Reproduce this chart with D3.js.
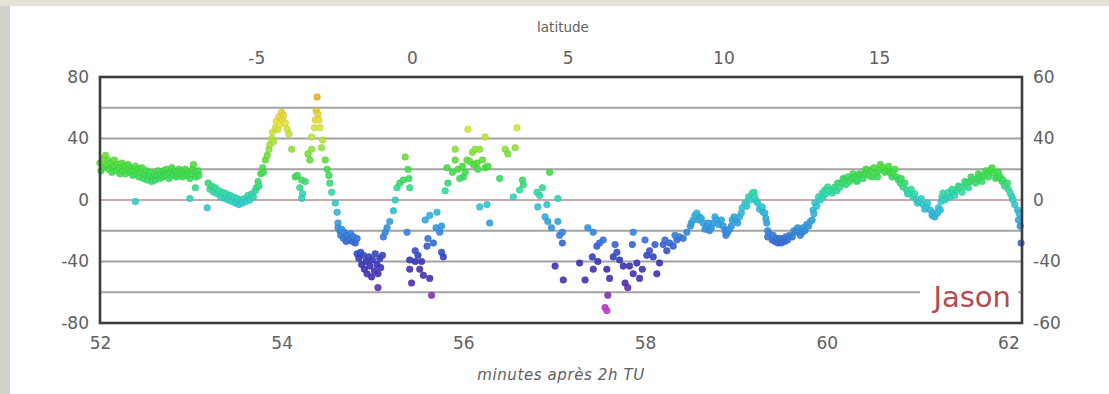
<!DOCTYPE html>
<html>
<head>
<meta charset="utf-8">
<script src="https://cdn.jsdelivr.net/npm/d3@7"></script>
<style>
  body { margin: 0; background: #fff; }
  svg { display: block; }
</style>
</head>
<body>
<svg id="chart" width="1109" height="394"></svg>
<script>
// Each point: [minutes after 02:00 UT, value]
const plateau = [
  [52.00,24],[52.01,19],[52.03,27],[52.04,21],[52.06,29],[52.07,23],[52.09,26],[52.10,20],[52.12,24],[52.13,18],
  [52.15,22],[52.16,26],[52.18,19],[52.19,23],[52.21,21],[52.22,17],[52.24,24],[52.25,19],[52.27,22],[52.28,17],
  [52.30,20],[52.31,23],[52.33,18],[52.34,21],[52.36,16],[52.37,19],[52.39,22],[52.40,17],[52.42,20],[52.43,15],
  [52.45,18],[52.46,21],[52.48,14],[52.49,17],[52.51,19],[52.52,13],[52.54,16],[52.55,18],[52.57,12],[52.58,15],
  [52.60,17],[52.61,13],[52.63,16],[52.64,19],[52.66,14],[52.67,17],[52.69,15],[52.70,19],[52.72,16],[52.73,20],
  [52.75,17],[52.76,14],[52.78,18],[52.79,21],[52.81,16],[52.82,19],[52.84,15],[52.85,18],[52.87,20],[52.88,16],
  [52.90,19],[52.91,15],[52.93,17],[52.94,20],[52.96,16],[52.97,18],[52.99,14],[53.00,17],[53.02,20],[53.03,23],
  [53.05,18],[53.06,15],[53.08,19],[53.09,16]
];
const strays = [[52.39,-1],[52.99,1],[53.05,8],[53.18,-5]];
const shelf = [
  [53.19,11],[53.21,7],[53.23,9],[53.25,5],[53.27,8],[53.29,4],[53.31,6],[53.33,2],[53.35,5],[53.37,1],
  [53.39,4],[53.41,0],[53.43,3],[53.45,-1],[53.47,2],[53.49,-2],[53.51,1],[53.53,-3],[53.55,0],[53.57,-2],
  [53.59,1],[53.61,-1],[53.63,3],[53.65,0],[53.67,4],[53.69,2],[53.71,6]
];
const firstPeak = [
  [53.72,8],[53.74,12],[53.75,9],[53.77,17],[53.79,21],[53.80,18],[53.82,26],[53.84,29],[53.86,33],[53.87,36],
  [53.89,40],[53.90,44],[53.91,38],[53.93,47],[53.94,51],[53.96,46],[53.97,54],[53.98,49],[54.00,57],[54.01,52],
  [54.02,55],[54.04,50],[54.06,46],[54.08,43]
];
const saddle = [
  [54.11,33],[54.15,15],[54.17,16],[54.22,13],[54.26,12],[54.20,8],[54.23,4],[54.22,1],[54.29,30],[54.33,33],[54.31,26]
];
const secondPeak = [
  [54.33,41],[54.36,47],[54.37,52],[54.39,67],[54.38,58],[54.40,56],[54.41,52],[54.42,47],[54.44,34],[54.45,39],
  [54.48,26],[54.50,20],[54.52,16],[54.53,11],[54.55,5],[54.59,-2],[54.61,-8],[54.62,-15],[54.64,-20],
  [54.62,-18],[54.65,-23],[54.66,-19],[54.68,-25],[54.69,-21],[54.71,-27],[54.72,-23],[54.74,-26],[54.76,-22],
  [54.78,-27],[54.79,-24],[54.81,-28],[54.83,-25]
];
const firstTrough = [
  [54.83,-35],[54.85,-38],[54.87,-34],[54.88,-42],[54.90,-36],[54.91,-45],[54.93,-40],[54.94,-48],[54.96,-37],
  [54.97,-43],[54.99,-50],[55.00,-39],[55.02,-46],[55.03,-35],[55.05,-42],[55.06,-48],[55.08,-38],[55.09,-44],
  [55.11,-36],[55.06,-57]
];
const rebound = [
  [55.12,-24],[55.14,-21],[55.16,-18],[55.19,-14],[55.23,-7],[55.25,0],[55.27,8],[55.30,11],[55.34,13],[55.36,28],
  [55.39,20],[55.40,14],[55.41,8]
];
const secondTrough = [
  [55.38,-21],[55.41,-45],[55.58,-13],[55.63,-10],[55.71,-8],[55.76,-17],[55.74,-21],[55.67,-28],[55.60,-30],
  [55.50,-36],[55.47,-40],[55.52,-45],[55.56,-49],[55.43,-54],[55.63,-51],[55.65,-62],[55.76,-34],[55.78,-37],
  [55.54,-40],[55.61,-25],[55.70,-18],[55.47,-33],[55.41,-39]
];
const greenCluster = [
  [55.82,21],[55.83,11],[55.80,6],[55.88,18],[55.91,33],[55.91,26],[55.94,20],[55.99,22],[56.00,15],[56.04,26],
  [56.05,46],[56.10,31],[56.13,33],[56.15,24],[56.21,26],[56.24,41],[56.24,21],[56.16,20],[56.27,22],[56.18,-4.5],
  [56.26,-3],[56.29,-15],[56.40,14],[56.46,33],[56.49,30],[56.59,47],[56.57,34],[56.65,13],[56.66,10],[56.62,6.5],
  [56.55,2],[55.96,14],[56.07,25],[56.02,18],[56.18,33],[56.11,23]
];
const descent = [
  [56.95,18],[56.81,5],[56.84,3],[56.82,-4.5],[56.90,-11],[56.93,-14],[57.04,1],[57.04,-14],[57.06,-23],[57.09,-28],
  [57.01,-43],[57.10,-52],[56.97,-18],[56.92,-3],[56.87,8]
];
const deepScatter = [
  [57.09,-21],[57.28,-41],[57.34,-52],[57.37,-18],[57.43,-21],[57.47,-30],[57.50,-28],[57.42,-37],[57.43,-45],
  [57.48,-40],[57.58,-45],[57.61,-51],[57.59,-62],[57.56,-70],[57.58,-72],[57.65,-37],[57.69,-34],[57.72,-39],
  [57.76,-43],[57.78,-54],[57.81,-57],[57.83,-43],[57.87,-48],[57.94,-51],[57.86,-29],[57.87,-21],[57.91,-41],
  [57.97,-45],[58.02,-36],[58.05,-33],[58.09,-37],[58.13,-48],[58.16,-41],[58.20,-29],[58.24,-33],[58.27,-28],
  [58.31,-30],[58.35,-26],[58.38,-24],[58.42,-25],[58.46,-21],[58.50,-17],[57.54,-26],[57.67,-29],[58.00,-26],
  [58.11,-29],[58.22,-26],[58.33,-23]
];
const recovery = [
  [58.51,-15],[58.53,-13],[58.55,-10],[58.57,-8.5],[58.59,-13],[58.60,-11],[58.62,-12],[58.64,-15],[58.66,-19],
  [58.68,-17],[58.70,-15],[58.71,-20],[58.73,-18],[58.75,-15],[58.77,-11],[58.79,-13],[58.81,-16],[58.84,-13],
  [58.86,-17],[58.88,-20],[58.89,-23],[58.91,-21],[58.93,-19],[58.95,-17],[58.96,-13],[58.98,-11],[59.00,-13],
  [59.02,-15],[59.04,-11],[59.06,-8.5],[59.07,-5],[59.10,-2],[59.12,-4],[59.14,2],[59.16,0],[59.18,4.5],[59.20,5],
  [59.21,2],[59.23,-1],[59.24,-2],[59.26,-6],[59.29,-4.5],[59.30,-8],[59.32,-8.5],[59.33,-12],[59.34,-15],
  [59.35,-20],[59.35,-24],[59.37,-22],[59.40,-26],[59.41,-23],[59.43,-27],[59.45,-25],[59.46,-28],[59.48,-25],
  [59.50,-28],[59.52,-25],[59.54,-27],[59.55,-24],[59.57,-26],[59.59,-23],[59.62,-24],[59.64,-20],[59.66,-21],
  [59.68,-18],[59.69,-20],[59.71,-23],[59.73,-21],[59.74,-18],[59.76,-20],[59.78,-16],[59.80,-17],[59.82,-14],
  [59.84,-13],[59.85,-6.5],[59.86,-9],[59.87,-2],[59.89,-4],[59.91,2],[59.93,0],[59.95,4.5],[59.96,2],[59.98,6.5],
  [59.99,4],[60.01,8.5],[60.03,6],[60.06,4.5],[60.07,7],[60.09,8.5],[60.11,6],[60.12,11],[60.14,8],[60.17,11],
  [60.18,14],[60.20,13],[60.21,10],[60.23,15],[60.25,12],[60.28,14],[60.29,17],[60.31,15],[60.33,12],[60.34,13],
  [60.36,17],[60.38,16],[60.40,14],[60.42,17.5],[60.43,20],[60.45,19.5],[60.47,16],[60.49,19.5],[60.50,15],
  [60.52,21],[60.55,17.5],[60.56,15],[60.58,19.5],[60.59,23],[60.62,21],[60.64,18],[60.67,19.5],[60.68,22],
  [60.70,17.5],[60.72,15],[60.73,18],[60.75,20],[60.77,15],[60.79,13],[60.81,11],[60.82,14],[60.84,8.5],
  [60.86,11],[60.88,6.5],[60.89,4],[60.91,4.5],[60.93,7],[60.95,2],[60.97,4],[60.99,0],[61.00,-2],[61.02,-1],
  [61.04,1],[61.06,-3],[61.08,-6],[61.10,-4.5],[61.11,-2],[61.14,-6.5],[61.16,-10],[61.17,-8.5],[61.19,-11],
  [61.22,-8.5],[61.23,-5],[61.25,-6.5],[61.26,-1],[61.27,2],[61.28,4.5],[61.30,0],[61.33,1.5],[61.34,5],[61.36,2],
  [61.38,7],[61.39,4.5],[61.41,3],[61.44,6.5],[61.45,9],[61.47,8],[61.49,5],[61.50,8.5],[61.52,12],[61.54,11],
  [61.56,8],[61.58,12],[61.59,15],[61.61,13],[61.64,11],[61.66,14],[61.67,17],[61.69,15],[61.71,12],[61.73,16],
  [61.75,19],[61.77,17.5],[61.78,15],[61.80,19.5],[61.82,21],[61.84,17.5],[61.86,14],[61.88,15],[61.89,18],
  [61.91,15],[61.93,12],[61.94,13],[61.96,9],[61.99,11],[62.00,7],[62.02,4.5],[62.04,2],[62.05,0],[62.07,-3],
  [62.10,-6.5],[62.11,-13],[62.12,-9],[62.13,-17],[62.14,-28]
];

const leftTicks = [80, 40, 0, -40, -80];
const rightTickLabels = ["60", "40", "0", "-40", "-60"];
const gridValues = [60, 40, 20, 0, -20, -40, -60];
const minuteTicks = [52, 54, 56, 58, 60, 62];
const latitudeTicks = [-5, 0, 5, 10, 15];
const seriesName = "Jason";
const topTitle = "latitude";
const bottomTitle = "minutes après 2h TU";

const points = [].concat(plateau, strays, shelf, firstPeak, saddle, secondPeak, firstTrough,
  rebound, secondTrough, greenCluster, descent, deepScatter, recovery);

const W = 1109, H = 394;
const plot = { left: 100, right: 1022, top: 77, bottom: 323 };
const FONT = "'DejaVu Sans', 'Liberation Sans', sans-serif";
const TEXT = "#606060";
const plain = d => String(d); // hyphen-minus, as printed on the axes

const x = d3.scaleLinear().domain([52, 62.15]).range([plot.left, plot.right]);
const y = d3.scaleLinear().domain([-80, 80]).range([plot.bottom, plot.top]);
const lat = d3.scaleLinear().domain([-10.02, 19.59]).range([plot.left, plot.right]);

// colour follows the plotted value: magenta low, through blue, teal, green, to yellow high
const colour = d3.scaleLinear()
  .domain([-72, -55, -40, -28, -18, -5, 5, 13, 22, 36, 50, 66])
  .range(["#c23fc6", "#5530b0", "#3a38b8", "#3a6ad6", "#3596e0", "#33c4d8",
          "#33dcaa", "#3cdc64", "#48de3e", "#a2e43c", "#e6e43c", "#eeb02e"])
  .clamp(true);

const svg = d3.select("#chart");

// page backdrop with thin grey border strips
svg.append("rect").attr("width", W).attr("height", H).attr("fill", "#d2d0ca");
svg.append("rect").attr("x", 0).attr("y", 0).attr("width", W).attr("height", 6).attr("fill", "#e6e2d8");
svg.append("rect").attr("x", 10).attr("y", 6).attr("width", W - 10).attr("height", H - 6).attr("fill", "#ffffff");

// horizontal gridlines
svg.append("g").selectAll("line").data(gridValues).join("line")
  .attr("x1", plot.left).attr("x2", plot.right)
  .attr("y1", d => y(d)).attr("y2", d => y(d))
  .attr("stroke", d => d === 0 ? "#c8aaaa" : "#a2a2a2")
  .attr("stroke-width", 2);

// data points
svg.append("g").selectAll("circle").data(points).join("circle")
  .attr("cx", d => x(d[0]))
  .attr("cy", d => y(d[1]))
  .attr("r", 3.3)
  .attr("fill", d => colour(d[1]))
  .attr("stroke", d => d3.color(colour(d[1])).darker(0.4))
  .attr("stroke-width", 0.5)
  .attr("fill-opacity", 0.92);

// series label on a white patch
svg.append("rect").attr("x", 920).attr("y", 281).attr("width", 98).attr("height", 34).attr("fill", "#ffffff");
svg.append("text").attr("x", 1011).attr("y", 307)
  .attr("text-anchor", "end")
  .attr("font-family", FONT).attr("font-size", 29)
  .attr("fill", "#b34c4f")
  .text(seriesName);

// plot frame
svg.append("rect")
  .attr("x", plot.left).attr("y", plot.top)
  .attr("width", plot.right - plot.left).attr("height", plot.bottom - plot.top)
  .attr("fill", "none").attr("stroke", "#3c3c3c").attr("stroke-width", 2.6);

function styleAxis(g) {
  g.select(".domain").remove();
  g.selectAll(".tick line").remove();
  g.selectAll("text").attr("font-family", FONT).attr("font-size", 17).attr("fill", TEXT);
}

svg.append("g").attr("transform", `translate(${plot.left},0)`)
  .call(d3.axisLeft(y).tickValues(leftTicks).tickSize(0).tickPadding(11).tickFormat(plain))
  .call(styleAxis);

svg.append("g").attr("transform", `translate(${plot.right},0)`)
  .call(d3.axisRight(y).tickValues(leftTicks).tickSize(0).tickPadding(11)
    .tickFormat((d, i) => rightTickLabels[i]))
  .call(styleAxis);

svg.append("g").attr("transform", `translate(0,${plot.bottom})`)
  .call(d3.axisBottom(x).tickValues(minuteTicks).tickSize(0).tickPadding(14).tickFormat(plain))
  .call(styleAxis);

svg.append("g").attr("transform", `translate(0,${plot.top})`)
  .call(d3.axisTop(lat).tickValues(latitudeTicks).tickSize(0).tickPadding(13).tickFormat(plain))
  .call(styleAxis);

svg.append("text").attr("x", 563).attr("y", 32)
  .attr("text-anchor", "middle")
  .attr("font-family", FONT).attr("font-size", 13.5).attr("fill", TEXT)
  .text(topTitle);

svg.append("text").attr("x", 561).attr("y", 380)
  .attr("text-anchor", "middle")
  .attr("font-family", FONT).attr("font-size", 15).attr("font-style", "italic")
  .attr("letter-spacing", 0.6)
  .attr("fill", TEXT)
  .text(bottomTitle);
</script>
</body>
</html>
